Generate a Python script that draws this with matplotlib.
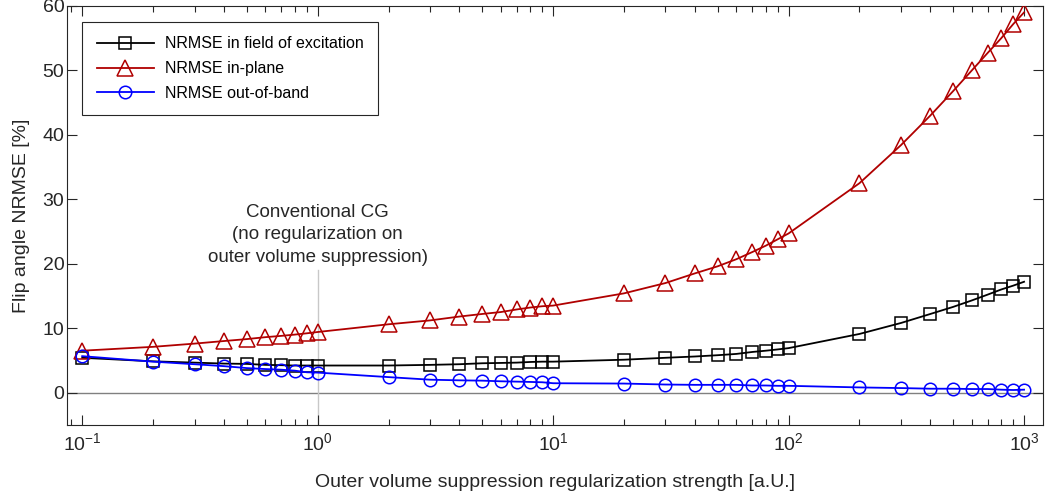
import numpy as np
import matplotlib.pyplot as plt

plt.rcParams['font.family'] = ['Liberation Sans', 'DejaVu Sans']
plt.rcParams['mathtext.fontset'] = 'custom'
plt.rcParams['mathtext.rm'] = 'Liberation Sans'
plt.rcParams['mathtext.it'] = 'Liberation Sans:italic'

# regularization strengths
strength = [0.1, 0.2, 0.3, 0.4, 0.5, 0.6, 0.7, 0.8, 0.9,
            1, 2, 3, 4, 5, 6, 7, 8, 9,
            10, 20, 30, 40, 50, 60, 70, 80, 90,
            100, 200, 300, 400, 500, 600, 700, 800, 900, 1000]

nrmse_field = [5.4, 4.85, 4.65, 4.5, 4.45, 4.3, 4.25, 4.2, 4.2,
               4.2, 4.2, 4.3, 4.4, 4.55, 4.6, 4.65, 4.75, 4.8,
               4.8, 5.1, 5.4, 5.6, 5.8, 6.0, 6.3, 6.5, 6.7,
               6.9, 9.1, 10.8, 12.2, 13.3, 14.3, 15.2, 16.0, 16.6, 17.2]

nrmse_inplane = [6.5, 7.1, 7.6, 8.0, 8.3, 8.6, 8.8, 9.0, 9.2,
                 9.4, 10.6, 11.2, 11.8, 12.2, 12.5, 12.9, 13.2, 13.4,
                 13.5, 15.4, 17.0, 18.5, 19.6, 20.7, 21.8, 22.8, 23.8,
                 24.7, 32.5, 38.4, 43.0, 46.8, 50.0, 52.7, 55.0, 57.2, 59.0]

nrmse_outband = [5.65, 4.8, 4.4, 4.1, 3.8, 3.65, 3.55, 3.4, 3.15,
                 3.1, 2.4, 2.0, 1.9, 1.85, 1.75, 1.7, 1.65, 1.6,
                 1.45, 1.4, 1.25, 1.2, 1.2, 1.2, 1.1, 1.1, 1.05,
                 1.05, 0.8, 0.7, 0.6, 0.6, 0.55, 0.55, 0.45, 0.4, 0.45]

fig = plt.figure(figsize=(10.49, 4.98), dpi=100)
ax = fig.add_axes([0.064, 0.147, 0.930, 0.841])

ax.axhline(0, color='#808080', lw=1.0, zorder=1)
ax.plot([1, 1], [-5, 19], color='#c8c8c8', lw=1.0, zorder=1)
ax.text(1, 19.7, 'Conventional CG\n(no regularization on\nouter volume suppression)',
        ha='center', va='bottom', fontsize=13.5, color='#262626', linespacing=1.42)

ax.plot(strength, nrmse_field, '-s', color='k', mfc='none', ms=8, mew=1.1, lw=1.3,
        label='NRMSE in field of excitation', zorder=3)
ax.plot(strength, nrmse_inplane, '-^', color='#b00000', mfc='none', ms=11, mew=1.1, lw=1.3,
        label='NRMSE in-plane', zorder=3)
ax.plot(strength, nrmse_outband, '-o', color='#0000ff', mfc='none', ms=9, mew=1.1, lw=1.3,
        label='NRMSE out-of-band', zorder=3)

ax.set_xscale('log')
ax.set_xlim(0.0863, 1200)
ax.set_ylim(-5, 60)
ax.set_yticks(np.arange(0, 61, 10))

ax.tick_params(which='both', direction='in', top=True, right=True, colors='#262626',
               labelsize=14, width=0.8)
ax.tick_params(which='major', length=7)
ax.tick_params(which='minor', length=4)
ax.tick_params(axis='x', pad=5)
ax.tick_params(axis='y', pad=2)
for s in ax.spines.values():
    s.set_color('#262626')
    s.set_linewidth(0.8)

ax.set_xlabel('Outer volume suppression regularization strength [a.U.]', fontsize=14,
              color='#262626', labelpad=15)
ax.set_ylabel('Flip angle NRMSE [%]', fontsize=14, color='#262626', labelpad=9)

leg = ax.legend(loc='upper left', bbox_to_anchor=(0.0154, 0.962), fontsize=11.5,
                fancybox=False, edgecolor='#262626', framealpha=1, borderaxespad=0,
                handlelength=3.6, handletextpad=0.7, borderpad=0.9, labelspacing=0.62)
leg.get_frame().set_linewidth(0.8)

fig.savefig('out.png', dpi=100)
